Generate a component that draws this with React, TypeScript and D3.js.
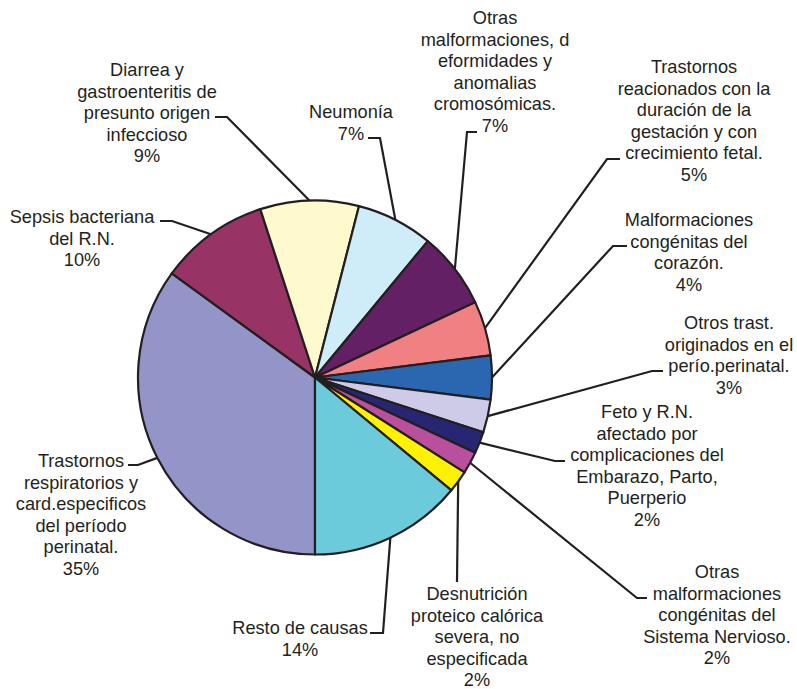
import React, { useEffect, useRef } from "react";
import * as d3 from "d3";

// causes, clockwise from 6 o'clock
const causes = [
  "Trastornos respiratorios",
  "Sepsis bacteriana",
  "Diarrea",
  "Neumonía",
  "Otras malformaciones",
  "Trastornos duración gestación",
  "Malformaciones corazón",
  "Otros trast.",
  "Feto y R.N.",
  "Malformaciones SN",
  "Desnutrición",
  "Resto de causas",
];
const percents = [35, 10, 9, 7, 7, 5, 4, 3, 2, 2, 2, 14];
const labelLines = [
  ["Trastornos", "respiratorios y", "card.especificos", "del período", "perinatal.", "35%"],
  ["Sepsis bacteriana", "del R.N.", "10%"],
  ["Diarrea y", "gastroenteritis de", "presunto origen", "infeccioso", "9%"],
  ["Neumonía", "7%"],
  ["Otras", "malformaciones, d", "eformidades y", "anomalias", "cromosómicas.", "7%"],
  ["Trastornos", "reacionados con la", "duración de la", "gestación y con", "crecimiento fetal.", "5%"],
  ["Malformaciones", "congénitas del", "corazón.", "4%"],
  ["Otros trast.", "originados en el", "perío.perinatal.", "3%"],
  ["Feto y R.N.", "afectado por", "complicaciones del", "Embarazo, Parto,", "Puerperio", "2%"],
  ["Otras", "malformaciones", "congénitas del", "Sistema Nervioso.", "2%"],
  ["Desnutrición", "proteico calórica", "severa, no", "especificada", "2%"],
  ["Resto de causas", "14%"],
];
const colors = [
  "#9394c8", "#983365", "#fffacd", "#cfecf9", "#632064", "#f08081",
  "#2b67b1", "#cdcbe8", "#262673", "#b94f9d", "#fff200", "#6bcbdb",
];

// label layout: text centre x, first line y, elbow point, short tick direction
const labelPos = [
  { x: 81, y: 461, ex: 138, ey: 465, tick: -10 },
  { x: 82, y: 217, ex: 172, ey: 221, tick: -12 },
  { x: 147, y: 70, ex: 227, ey: 117, tick: -12 },
  { x: 351, y: 112, ex: 380, ey: 138, tick: -12 },
  { x: 495, y: 18, ex: 467, ey: 132, tick: 10 },
  { x: 694, y: 67, ex: 607, ey: 159, tick: 13 },
  { x: 689, y: 220, ex: 613, ey: 246, tick: 14 },
  { x: 729, y: 323, ex: 652, ey: 371, tick: 11 },
  { x: 647, y: 412, ex: 555, ey: 461, tick: 10 },
  { x: 717, y: 572, ex: 637, ey: 598, tick: 10 },
  { x: 477, y: 594, ex: 457, ey: 582, tick: 0 },
  { x: 300, y: 628, ex: 383, ey: 633, tick: -13 },
];

const App = () => {
  const ref = useRef<SVGSVGElement>(null);

  useEffect(() => {
    const svg = d3.select(ref.current);
    svg.selectAll("*").remove();

    const width = 797;
    const height = 689;
    const cx = 315;
    const cy = 377.5;
    const radius = 177;
    const ink = "#231f20";

    svg.attr("width", width).attr("height", height);

    const data = causes.map((c, i) => ({ name: c, value: percents[i], idx: i }));

    const pie = d3
      .pie<any>()
      .sort(null)
      .value((d) => d.value)
      .startAngle(Math.PI)
      .endAngle(Math.PI * 3);

    const arcs = pie(data);
    const arc = d3.arc<any>().innerRadius(0).outerRadius(radius);

    const chart = svg.append("g");

    // leader lines
    arcs.forEach((a, i) => {
      const p = labelPos[i];
      const mid = (a.startAngle + a.endAngle) / 2;
      const px = cx + radius * Math.sin(mid);
      const py = cy - radius * Math.cos(mid);
      const pts: [number, number][] = [
        [px, py],
        [p.ex, p.ey],
        [p.ex + p.tick, p.ey],
      ];
      chart
        .append("path")
        .attr("d", d3.line()(pts))
        .attr("fill", "none")
        .attr("stroke", ink)
        .attr("stroke-width", 2.2);
    });

    // slices
    chart
      .append("g")
      .attr("transform", `translate(${cx},${cy})`)
      .selectAll("path")
      .data(arcs)
      .enter()
      .append("path")
      .attr("d", arc)
      .attr("fill", (d) => colors[d.data.idx])
      .attr("stroke", ink)
      .attr("stroke-width", 2.2)
      .attr("stroke-linejoin", "round");

    // labels
    labelLines.forEach((lines, i) => {
      const p = labelPos[i];
      const t = chart
        .append("text")
        .attr("text-anchor", "middle")
        .attr("font-family", "'Liberation Sans', Arial, sans-serif")
        .attr("font-size", 18.2)
        .attr("fill", ink);
      lines.forEach((l, j) => {
        t.append("tspan")
          .attr("x", p.x)
          .attr("y", p.y + j * 21.5)
          .attr("dy", "0.35em")
          .text(l);
      });
    });
  }, []);

  return (
    <svg
      ref={ref}
      style={{ position: "absolute", left: 0, top: 0, background: "white" }}
    ></svg>
  );
};

export default App;
